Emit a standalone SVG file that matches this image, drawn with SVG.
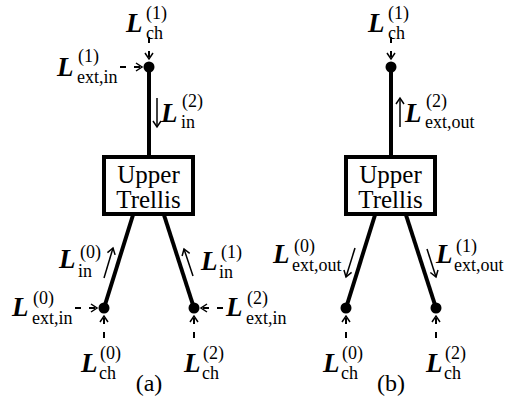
<svg xmlns="http://www.w3.org/2000/svg" width="511" height="403" viewBox="0 0 511 403">
<style>
.L{font-family:"Liberation Serif",serif;font-size:27px;font-weight:bold;font-style:italic;fill:#000}
.s{font-family:"Liberation Serif",serif;font-size:18px;fill:#000}
.t{font-family:"Liberation Serif",serif;font-size:25px;fill:#000;text-anchor:middle}
.cap{font-family:"Liberation Serif",serif;font-size:24px;fill:#000;text-anchor:middle}
.edge{stroke:#000;stroke-width:4;fill:none}
.flow{stroke:#000;stroke-width:1.5;fill:none;marker-end:url(#head)}
.dash{stroke:#000;stroke-width:2;fill:none;stroke-dasharray:6 8;marker-end:url(#head)}
.box{fill:#fff;stroke:#000;stroke-width:4}
</style>
<defs>
<marker id="head" markerUnits="userSpaceOnUse" markerWidth="12" markerHeight="12" refX="7" refY="5" orient="auto">
<path d="M1,1 L7,5 L1,9" fill="none" stroke="#000" stroke-width="1.5"/>
</marker>
</defs>
<g id="connectors">
<line class="edge" x1="149" y1="67" x2="149" y2="157"/>
<line class="edge" x1="133" y1="215" x2="104" y2="308"/>
<line class="edge" x1="164" y1="215" x2="194" y2="308"/>
<line class="edge" x1="391" y1="67" x2="391" y2="157"/>
<line class="edge" x1="375" y1="215" x2="346" y2="308"/>
<line class="edge" x1="406" y1="215" x2="436" y2="308"/>
<line class="flow" x1="157" y1="98" x2="157" y2="127"/>
<line class="flow" x1="104" y1="278" x2="113" y2="248"/>
<line class="flow" x1="193" y1="276" x2="184" y2="249"/>
<line class="flow" x1="400" y1="127" x2="400" y2="98"/>
<line class="flow" x1="355" y1="248" x2="346" y2="277"/>
<line class="flow" x1="427" y1="249" x2="436" y2="277"/>
<line class="dash" x1="149" y1="37" x2="149" y2="59"/>
<line class="dash" x1="120" y1="67" x2="142" y2="67"/>
<line class="dash" x1="75" y1="308" x2="97" y2="308"/>
<line class="dash" x1="223" y1="308" x2="201" y2="308"/>
<line class="dash" x1="104" y1="338" x2="104" y2="316"/>
<line class="dash" x1="194" y1="338" x2="194" y2="316"/>
<line class="dash" x1="391" y1="37" x2="391" y2="59"/>
<line class="dash" x1="346" y1="338" x2="346" y2="316"/>
<line class="dash" x1="436" y1="338" x2="436" y2="316"/>
</g>
<g id="a-top"><circle cx="149" cy="67" r="5.5"/></g>
<g id="a-box"><rect class="box" x="104" y="157" width="89" height="57"/><text class="t" x="148.5" y="183">Upper</text><text class="t" x="148.5" y="208">Trellis</text></g>
<g id="a-left"><circle cx="104" cy="308" r="5.5"/></g>
<g id="a-right"><circle cx="194" cy="308" r="5.5"/></g>
<g id="b-top"><circle cx="391" cy="67" r="5.5"/></g>
<g id="b-box"><rect class="box" x="346" y="157" width="89" height="57"/><text class="t" x="390.5" y="183">Upper</text><text class="t" x="390.5" y="208">Trellis</text></g>
<g id="b-left"><circle cx="346" cy="308" r="5.5"/></g>
<g id="b-right"><circle cx="436" cy="308" r="5.5"/></g>
<g id="labels-a">
<text class="L" x="126" y="32">L</text><text class="s" x="146" y="39">ch</text><text class="s" x="146" y="19">(1)</text>
<text class="L" x="57" y="76">L</text><text class="s" x="77" y="83">ext,in</text><text class="s" x="78" y="62">(1)</text>
<text class="L" x="161" y="122">L</text><text class="s" x="181" y="128">in</text><text class="s" x="182" y="107">(2)</text>
<text class="L" x="59" y="268">L</text><text class="s" x="78" y="277">in</text><text class="s" x="80" y="258">(0)</text>
<text class="L" x="201" y="270">L</text><text class="s" x="219" y="278">in</text><text class="s" x="221" y="258">(1)</text>
<text class="L" x="12" y="316">L</text><text class="s" x="32" y="324">ext,in</text><text class="s" x="33" y="304">(0)</text>
<text class="L" x="226" y="316">L</text><text class="s" x="246" y="324">ext,in</text><text class="s" x="247" y="304">(2)</text>
<text class="L" x="81" y="372">L</text><text class="s" x="99" y="379">ch</text><text class="s" x="100" y="359">(0)</text>
<text class="L" x="184" y="372">L</text><text class="s" x="202" y="379">ch</text><text class="s" x="203" y="359">(2)</text>
<text class="cap" x="149" y="391">(a)</text>
</g>
<g id="labels-b">
<text class="L" x="368" y="32">L</text><text class="s" x="388" y="39">ch</text><text class="s" x="388" y="19">(1)</text>
<text class="L" x="405" y="122">L</text><text class="s" x="425" y="128">ext,out</text><text class="s" x="426" y="107">(2)</text>
<text class="L" x="273" y="263">L</text><text class="s" x="292" y="271">ext,out</text><text class="s" x="294" y="252">(0)</text>
<text class="L" x="436" y="263">L</text><text class="s" x="454" y="271">ext,out</text><text class="s" x="456" y="252">(1)</text>
<text class="L" x="323" y="372">L</text><text class="s" x="341" y="379">ch</text><text class="s" x="342" y="359">(0)</text>
<text class="L" x="426" y="372">L</text><text class="s" x="444" y="379">ch</text><text class="s" x="445" y="359">(2)</text>
<text class="cap" x="391" y="391">(b)</text>
</g>
</svg>
